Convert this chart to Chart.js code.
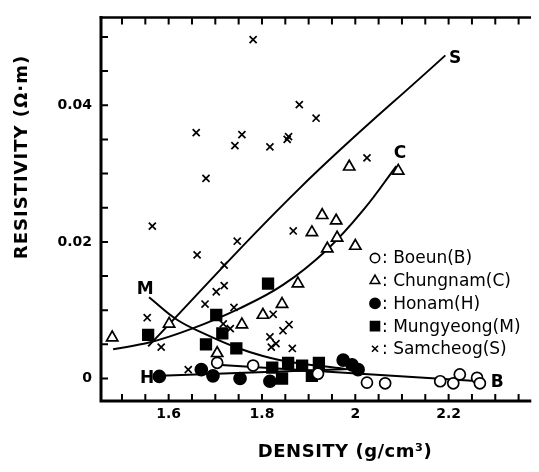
<!DOCTYPE html>
<html>
<head>
<meta charset="utf-8">
<script src="https://cdn.jsdelivr.net/npm/chart.js@4.4.1/dist/chart.umd.min.js"></script>
<style>
  html, body { margin: 0; padding: 0; background: #fff; }
</style>
</head>
<body>
<canvas id="chart1" width="539" height="472"></canvas>
<script>
// ----------------------------
// Data
// ----------------------------
const boeunX = [1.704, 1.781, 1.920, 2.025, 2.064, 2.182, 2.210, 2.224, 2.261, 2.267];
const boeunY = [0.0023, 0.0019, 0.0007, -0.0006, -0.0007, -0.0004, -0.0007, 0.0006, 0.0001, -0.0007];

const chungnamX = [1.479, 1.601, 1.704, 1.757, 1.802, 1.843, 1.877, 1.907, 1.929, 1.940, 1.959, 1.961, 2.000, 1.987, 2.092];
const chungnamY = [0.0060, 0.0080, 0.0037, 0.0079, 0.0093, 0.0109, 0.0139, 0.0214, 0.0239, 0.0190, 0.0231, 0.0206, 0.0194, 0.0310, 0.0304];

const honamX = [1.580, 1.670, 1.695, 1.753, 1.817, 1.974, 1.993, 2.006];
const honamY = [0.0003, 0.0013, 0.0004, 0.0000, -0.0004, 0.0027, 0.0020, 0.0013];

const mungyeongX = [1.556, 1.680, 1.702, 1.715, 1.745, 1.813, 1.822, 1.843, 1.856, 1.886, 1.907, 1.922];
const mungyeongY = [0.0064, 0.0050, 0.0093, 0.0066, 0.0044, 0.0139, 0.0016, 0.0000, 0.0023, 0.0019, 0.0004, 0.0023];

const samcheogX = [1.781, 1.659, 1.680, 1.742, 1.757, 1.817, 1.854, 1.857, 1.880, 1.916, 2.025,
                   1.565, 1.661, 1.747, 1.867, 1.719, 1.719, 1.702, 1.678, 1.740, 1.554, 1.584,
                   1.642, 1.717, 1.732, 1.824, 1.858, 1.845, 1.817, 1.830, 1.820, 1.865];
const samcheogY = [0.0496, 0.0360, 0.0293, 0.0341, 0.0357, 0.0339, 0.0350, 0.0354, 0.0401, 0.0381, 0.0323,
                   0.0223, 0.0181, 0.0201, 0.0216, 0.0166, 0.0136, 0.0127, 0.0109, 0.0104, 0.0089, 0.0046,
                   0.0013, 0.0080, 0.0073, 0.0094, 0.0079, 0.0070, 0.0061, 0.0051, 0.0046, 0.0044];

// fitted curves
const sFitX = [1.556, 1.880, 2.193];
const sFitY = [0.0047, 0.0278, 0.0473];
const cFitX = [1.481, 1.560, 1.650, 1.750, 1.845, 1.940, 2.020, 2.088];
const cFitY = [0.0043, 0.0053, 0.0073, 0.0102, 0.0137, 0.0189, 0.0249, 0.0311];
const mFitX = [1.558, 1.618, 1.682, 1.747, 1.802, 1.854, 1.978];
const mFitY = [0.0119, 0.0086, 0.0064, 0.0045, 0.0033, 0.0025, 0.0014];
const hFitX = [1.582, 1.989];
const hFitY = [0.0004, 0.0014];
const bFitX = [1.704, 2.267];
const bFitY = [0.0020, -0.0004];

// curve letters
const curveLabels = ["S", "C", "M", "H", "B"];
const curveLabelX = [2.214, 2.096, 1.550, 1.554, 2.304];
const curveLabelY = [0.0469, 0.0329, 0.0130, 0.0000, -0.0006];

// ticks
const xTickLabels = [1.6, 1.8, 2.0, 2.2];
const yTickLabels = [0, 0.02, 0.04];
const xMinorTicks = [1.5, 1.55, 1.6, 1.65, 1.7, 1.75, 1.8, 1.85, 1.9, 1.95, 2.0, 2.05, 2.1, 2.15, 2.2, 2.25, 2.3, 2.35];
const yMinorTicks = [0, 0.005, 0.01, 0.015, 0.02, 0.025, 0.03, 0.035, 0.04, 0.045, 0.05];

const legendNames = ["Boeun(B)", "Chungnam(C)", "Honam(H)", "Mungyeong(M)", "Samcheog(S)"];

// ----------------------------
// Helpers
// ----------------------------
function pts(xs, ys) { return xs.map((x, i) => ({ x: x, y: ys[i] })); }

const styles = [
  { pointStyle: "circle",   radius: 5.5, fill: "#fff" },
  { pointStyle: "triangle", radius: 6.5, fill: "#fff" },
  { pointStyle: "circle",   radius: 6,   fill: "#000" },
  { pointStyle: "rect",     radius: 7.5, fill: "#000" },
  { pointStyle: "crossRot", radius: 5,   fill: "#000" }
];

function scatterDs(label, data, st) {
  return {
    type: "scatter",
    label,
    data,
    pointStyle: st.pointStyle,
    pointRadius: st.radius,
    pointBackgroundColor: st.fill,
    pointBorderColor: "#000",
    pointBorderWidth: 1.7,
    order: 1
  };
}

function fitDs(label, data, tension) {
  return {
    type: "line",
    label,
    data,
    borderColor: "#000",
    borderWidth: 2,
    pointRadius: 0,
    fill: false,
    tension: tension,
    order: 2
  };
}

const FONT = "DejaVu Sans";

// ----------------------------
// frame, inward ticks, labels, legend
// ----------------------------
const framePlugin = {
  id: "frame",
  beforeDatasetsDraw(chart) {
    const { ctx, chartArea: a, scales: { x, y } } = chart;
    ctx.save();
    ctx.strokeStyle = "#000";
    ctx.lineCap = "square";
    ctx.lineWidth = 3;
    ctx.beginPath();
    ctx.moveTo(a.left, a.top);
    ctx.lineTo(a.left, a.bottom);
    ctx.lineTo(a.right, a.bottom);
    ctx.stroke();
    ctx.lineWidth = 2.5;
    ctx.beginPath();
    ctx.moveTo(a.left, a.top);
    ctx.lineTo(a.right, a.top);
    ctx.stroke();

    ctx.lineWidth = 2;
    ctx.lineCap = "butt";
    ctx.beginPath();
    xMinorTicks.forEach(v => {
      const px = x.getPixelForValue(v);
      ctx.moveTo(px, a.bottom); ctx.lineTo(px, a.bottom - 7);
      ctx.moveTo(px, a.top); ctx.lineTo(px, a.top + 7);
    });
    yMinorTicks.forEach(v => {
      const py = y.getPixelForValue(v);
      ctx.moveTo(a.left, py); ctx.lineTo(a.left + 7, py);
    });
    ctx.stroke();
    ctx.restore();
  },
  afterDraw(chart) {
    const { ctx, scales: { x, y } } = chart;
    ctx.save();
    ctx.fillStyle = "#000";

    // curve letters
    ctx.font = "bold 17px " + FONT;
    ctx.textAlign = "center";
    ctx.textBaseline = "middle";
    curveLabels.forEach((t, i) => {
      ctx.fillText(t, x.getPixelForValue(curveLabelX[i]), y.getPixelForValue(curveLabelY[i]));
    });

    // axis titles
    ctx.font = "bold 18px " + FONT;
    ctx.letterSpacing = "0.5px";
    ctx.fillText("DENSITY (g/cm³)", 345, 452);
    ctx.save();
    ctx.translate(22, 157);
    ctx.rotate(-Math.PI / 2);
    ctx.letterSpacing = "1px";
    ctx.fillText("RESISTIVITY (Ω·m)", 0, 0);
    ctx.restore();

    // legend
    ctx.font = "17px " + FONT;
    ctx.letterSpacing = "0px";
    ctx.textAlign = "left";
    legendNames.forEach((name, i) => {
      const ly = 258 + i * 22.7;
      const st = styles[i];
      ctx.fillStyle = st.fill;
      ctx.strokeStyle = "#000";
      ctx.lineWidth = 1.6;
      Chart.helpers.drawPoint(ctx, {
        pointStyle: st.pointStyle,
        radius: st.radius * 0.85,
        rotation: 0,
        borderWidth: 1.6
      }, 375, ly);
      ctx.fillStyle = "#000";
      ctx.fillText(": " + name, 382, ly + 1);
    });
    ctx.restore();
  }
};

// ----------------------------
// chart
// ----------------------------
const ctx = document.getElementById("chart1").getContext("2d");
new Chart(ctx, {
  data: {
    datasets: [
      scatterDs("Boeun(B)", pts(boeunX, boeunY), styles[0]),
      scatterDs("Chungnam(C)", pts(chungnamX, chungnamY), styles[1]),
      scatterDs("Honam(H)", pts(honamX, honamY), styles[2]),
      scatterDs("Mungyeong(M)", pts(mungyeongX, mungyeongY), styles[3]),
      scatterDs("Samcheog(S)", pts(samcheogX, samcheogY), styles[4]),
      fitDs("S fit", pts(sFitX, sFitY), 0.4),
      fitDs("C fit", pts(cFitX, cFitY), 0.4),
      fitDs("M fit", pts(mFitX, mFitY), 0.4),
      fitDs("H fit", pts(hFitX, hFitY), 0),
      fitDs("B fit", pts(bFitX, bFitY), 0)
    ]
  },
  options: {
    responsive: false,
    animation: false,
    devicePixelRatio: 1,
    layout: { padding: { top: 8, right: 9, left: 0, bottom: 0 } },
    plugins: { legend: { display: false }, tooltip: { enabled: false } },
    scales: {
      x: {
        type: "linear",
        min: 1.455,
        max: 2.374,
        afterFit: s => { s.height = 71; },
        afterBuildTicks: s => { s.ticks = xTickLabels.map(v => ({ value: v })); },
        grid: { display: false, drawTicks: false },
        border: { display: false },
        ticks: {
          padding: 5,
          color: "#000",
          font: { family: FONT, size: 14, weight: "bold" },
          maxRotation: 0,
          callback: v => (v === 2 ? "2" : v.toFixed(1))
        }
      },
      y: {
        type: "linear",
        min: -0.00329,
        max: 0.05286,
        afterFit: s => { s.width = 101; },
        afterBuildTicks: s => { s.ticks = yTickLabels.map(v => ({ value: v })); },
        grid: { display: false, drawTicks: false },
        border: { display: false },
        ticks: {
          padding: 9,
          color: "#000",
          font: { family: FONT, size: 14, weight: "bold" },
          callback: v => (v === 0 ? "0" : v.toFixed(2))
        }
      }
    }
  },
  plugins: [framePlugin]
});
</script>
</body>
</html>
